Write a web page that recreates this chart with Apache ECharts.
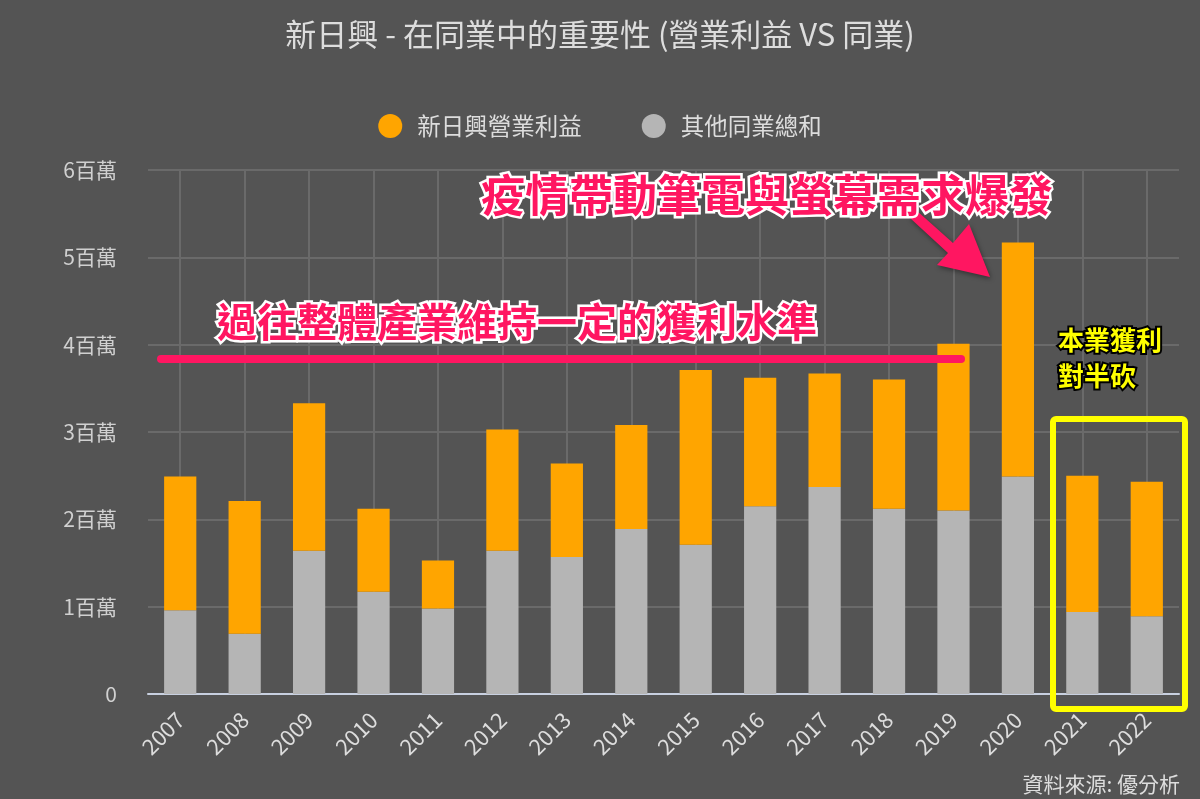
<!DOCTYPE html>
<html>
<head>
<meta charset="utf-8">
<script src="https://cdn.jsdelivr.net/npm/echarts@6/dist/echarts.min.js"></script>
<style>html,body{margin:0;padding:0;background:#545454;}#c{width:1200px;height:799px;}</style>
</head>
<body>
<div id="c"></div>
<script>
const years = ['2007','2008','2009','2010','2011','2012','2013','2014','2015','2016','2017','2018','2019','2020','2021','2022'];
const companyProfit = [1.53,1.52,1.69,0.95,0.55,1.39,1.07,1.19,2.00,1.47,1.30,1.48,1.91,2.68,1.56,1.54];
const peersSum = [0.96,0.69,1.64,1.17,0.98,1.64,1.57,1.89,1.71,2.15,2.37,2.12,2.10,2.49,0.94,0.89];
const yTicks = [0,1,2,3,4,5,6];

const FONT = '"Noto Sans CJK TC","Noto Sans",sans-serif';
const chart = echarts.init(document.getElementById('c'));
const pink = '#ff1661';
const ax = 990, ay = 277;
chart.setOption({
  backgroundColor: '#545454',
  textStyle: {fontFamily: FONT},
  title: {
    text: '新日興 - 在同業中的重要性 (營業利益 VS 同業)',
    left: 'center', top: 14,
    textStyle: {color: '#dddddd', fontSize: 31, fontWeight: 'normal', fontFamily: FONT}
  },
  legend: {
    data: ['新日興營業利益','其他同業總和'],
    top: 109, left: 'center',
    icon: 'circle', itemWidth: 24, itemHeight: 24, itemGap: 60,
    textStyle: {color: '#dddddd', fontSize: 23.5, fontFamily: FONT, padding: [0, 0, 0, 10]}
  },
  grid: {left: 148, right: 21, top: 170, bottom: 105},
  xAxis: {
    type: 'category', data: years,
    axisLine: {lineStyle: {color: '#c8d0e0', width: 2}},
    axisTick: {show: false},
    axisLabel: {color: '#dddddd', fontSize: 22, rotate: 45, margin: 22, fontFamily: FONT},
    splitLine: {show: true, alignWithLabel: true, lineStyle: {color: '#6a6a6a', width: 2}}
  },
  yAxis: {
    type: 'value', min: 0, max: yTicks[yTicks.length-1], interval: 1,
    axisLabel: {color: '#d0d0d0', fontSize: 21, margin: 31, fontFamily: FONT,
      formatter: v => v === 0 ? '0' : v + '百萬'},
    axisLine: {show: false}, axisTick: {show: false},
    splitLine: {lineStyle: {color: '#6a6a6a', width: 2}}
  },
  series: [
    {name: '其他同業總和', type: 'bar', stack: 't', data: peersSum, barWidth: '50%',
     itemStyle: {color: '#b5b5b5'}},
    {name: '新日興營業利益', type: 'bar', stack: 't', data: companyProfit, barWidth: '50%',
     itemStyle: {color: '#ffa500'}}
  ],
  graphic: [
    {type: 'line', shape: {x1: 161, y1: 359, x2: 961, y2: 359}, z: 100,
     style: {stroke: pink, lineWidth: 8, lineCap: 'round'}},
    {type: 'text', x: 517, y: 322, z: 101,
     style: {text: '過往整體產業維持一定的獲利水準', fill: pink, font: 'bold 40px ' + FONT,
       textAlign: 'center', textVerticalAlign: 'middle',
       stroke: '#ffffff', lineWidth: 5,
       shadowBlur: 6, shadowColor: 'rgba(0,0,0,0.5)', shadowOffsetX: 1, shadowOffsetY: 2}},
    {type: 'text', x: 767, y: 195, z: 101,
     style: {text: '疫情帶動筆電與螢幕需求爆發', fill: pink, font: 'bold 44px ' + FONT,
       textAlign: 'center', textVerticalAlign: 'middle',
       stroke: '#ffffff', lineWidth: 5,
       shadowBlur: 6, shadowColor: 'rgba(0,0,0,0.5)', shadowOffsetX: 1, shadowOffsetY: 2}},
    {type: 'polygon', z: 100,
     shape: {points: [[916,210],[953,243],[969,224],[ax,ay],[937,265],[948,253],[910,218]]},
     style: {fill: pink, shadowBlur: 5, shadowColor: 'rgba(0,0,0,0.4)', shadowOffsetX: 1, shadowOffsetY: 2}},
    {type: 'rect', z: 100, shape: {x: 1053, y: 419, width: 132, height: 290, r: 3},
     style: {fill: 'none', stroke: '#ffff00', lineWidth: 6}},
    {type: 'text', x: 1058, y: 322, z: 101,
     style: {text: '本業獲利\n對半砍', fill: '#ffff00', font: 'bold 26px ' + FONT,
       lineHeight: 36, textAlign: 'left', textVerticalAlign: 'top',
       stroke: '#000000', lineWidth: 4,
       shadowBlur: 4, shadowColor: 'rgba(0,0,0,0.6)'}},
    {type: 'text', right: 20, bottom: 4, z: 101,
     style: {text: '資料來源: 優分析', fill: '#dddddd', font: '21px ' + FONT}}
  ]
});
</script>
</body>
</html>
